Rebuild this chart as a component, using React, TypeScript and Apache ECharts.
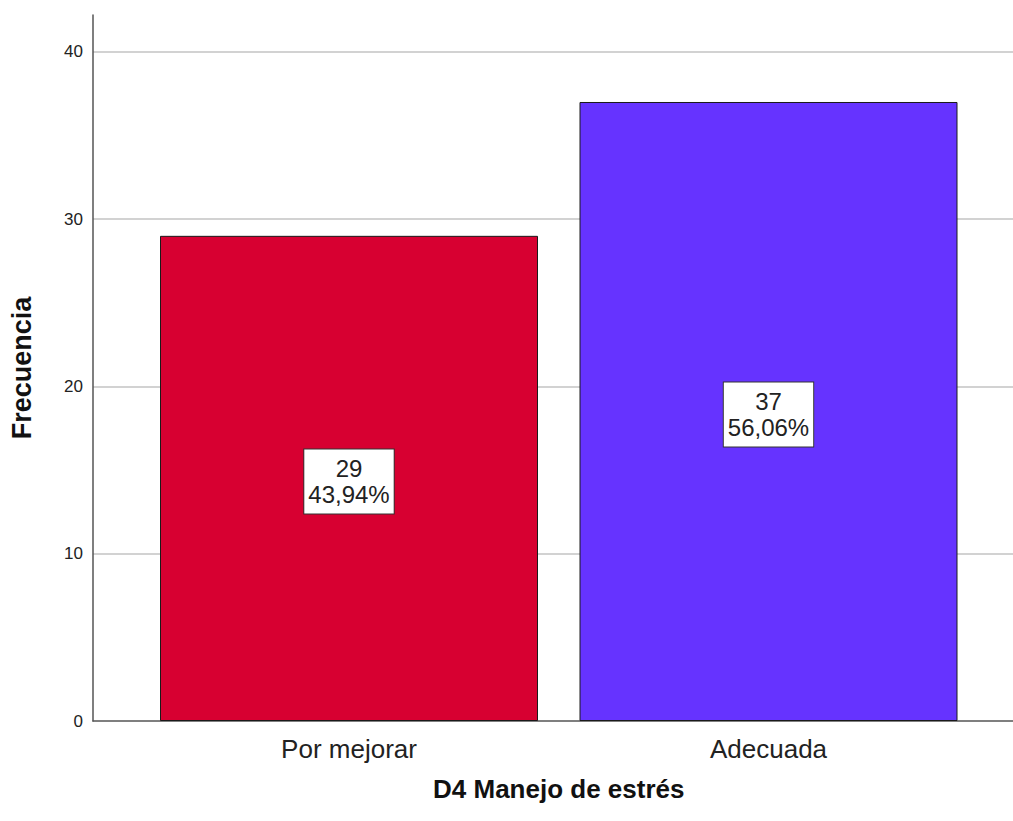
import { useEffect, useRef } from "react";
import * as echarts from "echarts";

const categories = ["Por mejorar", "Adecuada"];
const counts = [29, 37];
const percents = ["43,94%", "56,06%"];
const barColors = ["#D70031", "#6633FF"];
const xTitle = "D4 Manejo de estrés";
const yTitle = "Frecuencia";
const yMin = 0;
const yMax = 42.2;
const yStep = 10;

export default function App() {
  const ref = useRef<HTMLDivElement>(null);
  useEffect(() => {
    const chart = echarts.init(ref.current!, null, { renderer: "svg" });
    const font = "'Liberation Sans', Arial, sans-serif";
    chart.setOption({
      animation: false,
      backgroundColor: "#ffffff",
      textStyle: { fontFamily: font },
      grid: [
        { left: 93, right: 0, top: 15, bottom: 100 },
        { left: 139.25, right: 34.75, top: 15, bottom: 100 },
      ],
      xAxis: [
        {
          gridIndex: 0,
          type: "value",
          min: 0,
          max: 1,
          axisLine: { show: true, lineStyle: { color: "#555", width: 1.5 } },
          axisTick: { show: false },
          axisLabel: { show: false },
          splitLine: { show: false },
        },
        {
          gridIndex: 1,
          type: "category",
          data: categories,
          axisLine: { show: false },
          axisTick: { show: false },
          axisLabel: { fontSize: 26, color: "#222", margin: 15, fontFamily: font },
          name: xTitle,
          nameLocation: "middle",
          nameGap: 55,
          nameTextStyle: { fontSize: 26, fontWeight: "bold", color: "#111", fontFamily: font },
        },
      ],
      yAxis: [
        {
          gridIndex: 0,
          type: "value",
          min: yMin,
          max: yMax,
          interval: yStep,
          axisLine: { show: true, lineStyle: { color: "#555", width: 1.5 } },
          axisTick: { show: false },
          axisLabel: { fontSize: 17, color: "#222", margin: 10, showMaxLabel: false, fontFamily: font },
          splitLine: { show: true, showMaxLine: false, showMinLine: false, lineStyle: { color: "#D2D2D2", width: 2 } },
          name: yTitle,
          nameLocation: "middle",
          nameGap: 58,
          nameTextStyle: { fontSize: 27, fontWeight: "bold", color: "#111", fontFamily: font },
        },
        { gridIndex: 1, type: "value", min: yMin, max: yMax, show: false, splitLine: { show: false } },
      ],
      series: [
        {
          type: "bar",
          xAxisIndex: 1,
          yAxisIndex: 1,
          barWidth: 378,
          data: counts.map((v, i) => ({ value: v, itemStyle: { color: barColors[i] } })),
          itemStyle: { borderColor: "#1a1a1a", borderWidth: 1 },
          label: {
            show: true,
            position: "inside",
            offset: [0, 3],
            formatter: (p: any) => `${counts[p.dataIndex]}\n${percents[p.dataIndex]}`,
            fontSize: 24,
            lineHeight: 26,
            color: "#222",
            align: "center",
            backgroundColor: "#ffffff",
            borderColor: "#333",
            borderWidth: 1,
            padding: [6, 4, 6, 4],
            fontFamily: font,
          },
        },
      ],
    });
    return () => chart.dispose();
  }, []);
  return <div ref={ref} style={{ position: "absolute", left: 0, top: 0, width: 1013, height: 821 }} />;
}
